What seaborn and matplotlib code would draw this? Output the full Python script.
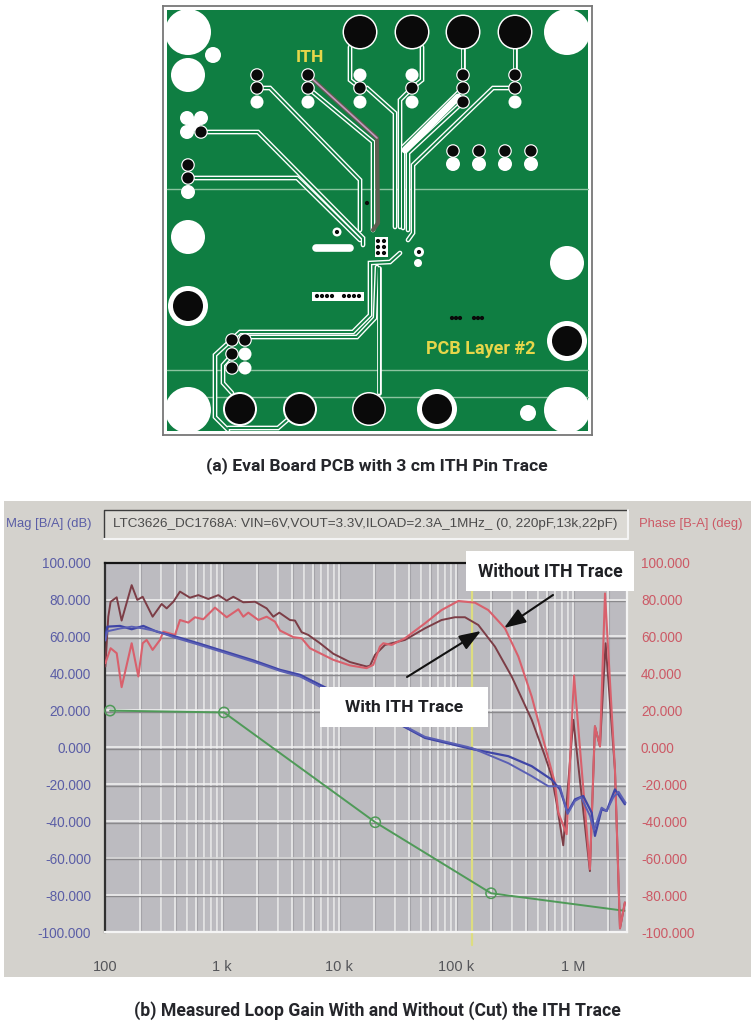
import matplotlib
matplotlib.use("Agg")
import numpy as np
import pandas as pd
import matplotlib.pyplot as plt
import seaborn as sns
from matplotlib.patches import Circle, Rectangle

# ---------- Bode data (log10 of frequency in Hz, value in dB / deg) ----------
logf_with = [2.003,2.028,2.048,2.100,2.142,2.228,2.276,2.322,2.407,2.484,2.527,2.584,2.641,2.726,2.798,2.883,2.969,3.040,3.097,3.182,3.282,3.382,3.439,3.490,3.581,3.624,3.681,3.738,3.838,3.952,4.094,4.236,4.265,4.308,4.393,4.564,4.735,4.877,4.991,5.077,5.191,5.333,5.476,5.647,5.761,5.818,5.860,5.917,6.003,6.145,6.188,6.231,6.279,6.359,6.402,6.444]
val_with = [43.9,70.9,79,81.4,68.8,88,80,81.7,70.9,77.8,75.4,79,84.5,81.2,82.6,80.5,82.6,79.6,81.7,78.7,79,75.4,70.9,73.1,69.1,68.8,62.5,61,56.5,50.8,46.3,43.9,44.3,50.2,55.6,58.3,64.6,69.1,70.6,70.6,66.4,54.7,38.5,15.1,-4.7,-15.5,-30,-53,15,-67,11.5,0.6,56.5,-12,-98,-84]
logf_without = [2.003,2.048,2.100,2.142,2.228,2.285,2.322,2.356,2.407,2.470,2.499,2.598,2.641,2.712,2.769,2.840,2.940,3.040,3.140,3.182,3.225,3.311,3.382,3.453,3.496,3.610,3.681,3.752,3.952,4.094,4.236,4.293,4.350,4.379,4.450,4.564,4.735,4.877,5.020,5.162,5.276,5.419,5.533,5.647,5.761,5.846,5.875,5.946,6.009,6.145,6.188,6.231,6.274,6.359,6.402,6.444]
val_without = [45.7,53.8,51.1,32.7,56.5,38.5,56.5,58.3,52.9,58.3,62.8,61,69.1,67.7,70.6,69.5,75.8,70.6,74.9,70.9,73.1,69.1,70.9,68.2,63.4,59.8,59.2,53.8,47.5,44.5,43,44.8,54.7,56.5,55.6,59.2,67.3,74.5,79.4,78.5,74.5,64.6,49.3,27.7,0.7,-19.2,-35.3,-47,39,-66,11.5,0.6,83.5,-12,-98,-84]
logf_mag_a = [2.003,2.020,2.128,2.228,2.328,2.442,2.584,2.812,3.040,3.268,3.496,3.667,3.866,4.2,4.550,4.735,5.134,5.447,5.647,5.818,5.889,5.954,6.017,6.088,6.160,6.188,6.245,6.288,6.359,6.444]
val_mag_a = [60.1,65.5,65.9,64.1,65.9,62.8,60.5,56.2,51.7,47.2,42.1,39.4,33.1,22,11.5,5.2,-0.8,-4.7,-10.1,-17.4,-22.7,-35.3,-28.1,-26.3,-35.3,-47.9,-33.5,-34.4,-22.7,-30.8]
logf_mag_b = [2.003,2.020,2.128,2.228,2.328,2.442,2.584,2.812,3.040,3.268,3.496,3.667,3.866,4.2,4.550,4.735,5.134,5.447,5.647,5.790,5.889,5.954,6.017,6.070,6.145,6.180,6.245,6.288,6.345,6.390,6.450]
val_mag_b = [58,63,64.5,65.5,64.5,63,59.8,55.5,51,46.5,41.5,38.5,32,21.5,12,5.8,-0.2,-8.5,-15.5,-21,-21,-36,-29,-27,-37,-45,-32.6,-34.4,-27,-24,-30]
logf_comp = [2.043,3.017,4.310,5.300,6.440]
val_comp = [20,19,-40.5,-79,-88.5]
logf_marker = [2.043,3.017,4.310,5.300]
val_marker = [20,19,-40.5,-79]
logf_cursor = 5.137

y_ticks = [100,80,60,40,20,0,-20,-40,-60,-80,-100]
x_tick_vals = [100,1000,10000,100000,1000000]
x_tick_labels = ["100","1 k","10 k","100 k","1 M"]
plot_title = "LTC3626_DC1768A: VIN=6V,VOUT=3.3V,ILOAD=2.3A_1MHz_ (0, 220pF,13k,22pF)"

# ---------- PCB drawing data (board units) ----------
white_holes = [(188,32,23),(567,32,23),(188,410,23),(567,410,23),(213,55,8),(188,75,17),(188,237,17),(567,263,17),(528,413,8),
               (257,102,6.5),(308,102,6.5),(360,75,6.5),(360,102,6.5),(412,75,6.5),(412,102,6.5),(515,102,6.5),
               (453,164,7),(479,164,7),(505,164,7),(531,164,7),(187,118,7),(201,118,7),(187,132,7),(194,125,6),(188,192,7),
               (337,232,4.5),(419,252,5),(418,263,4),(245,354,6.5),(245,368,6.5)]
large_pads = [(360,32,16,17.5),(412,32,16,17.5),(463,32,16,17.5),(515,32,16,17.5),(240,409,15,17),(300,409,15,17),(369,409,15.5,17),
              (437,409,15,20),(188,306,15,20),(567,341,15,20)]
small_vias = [(257,75),(257,88),(308,75),(308,88),(360,88),(412,88),(463,75),(463,88),(463,102),(515,75),(515,88),
              (453,151),(479,151),(505,151),(531,151),(201,132),(188,165),(188,178),(232,340),(245,340),(232,354),(232,368)]
tiny_dots = [(367,203),(337,232),(419,252),(317,296),(322,296),(327,296),(332,296),(344,296),(349,296),(354,296),(359,296),
             (452,318),(456,318),(460,318),(474,318),(478,318),(482,318),(378,241),(384,241),(378,247),(384,247),(378,253),(384,253)]
traces = [
    [(263,88),(270,88),(360,180),(360,230)],
    [(308,88),(373,142),(373,230)],
    [(201,132),(258,132),(363,238),(363,245)],
    [(188,178),(297,178),(360,240)],
    [(360,88),(367,88),(395,113),(395,227)],
    [(412,88),(400,100),(400,227)],
    [(463,88),(403,147),(403,228)],
    [(463,102),(408,153),(408,230)],
    [(515,88),(493,88),(413,165),(413,233),(408,240)],
    [(350,47),(350,80),(360,88)],
    [(422,47),(422,80),(412,88)],
    [(463,45),(463,75)],
    [(515,45),(515,75)],
    [(400,253),(390,262),(370,263),(370,315),(353,332),(240,332),(215,355),(215,417),(228,430)],
    [(377,267),(375,318),(357,337),(245,337)],
    [(379,268),(379,393)],
    [(300,409),(278,428),(228,428)],
    [(232,355),(223,365),(223,383),(232,393)],
]
ith_trace = [(308,75),(377,138),(378,223),(373,230)]
hairlines = [(167,588,189),(167,588,370),(200,588,397)]

sns.set_theme(style="white")
plt.rcParams['font.family'] = ['Liberation Sans', 'DejaVu Sans']

W, H = 755, 1025
fig = plt.figure(figsize=(W/100, H/100), dpi=100, facecolor="white")

def frac(x0, y0, x1, y1):
    return [x0/W, 1-y1/H, (x1-x0)/W, (y1-y0)/H]

# ---------- window background ----------
bg = fig.add_axes([0,0,1,1], zorder=0)
bg.set_xlim(0,W); bg.set_ylim(H,0); bg.axis("off")
bg.add_patch(Rectangle((4,501),747,476,fc="#d4d2cd",ec="none"))
bg.add_patch(Rectangle((104,510),524,28,fc="#dcdad5",ec="none"))
bg.plot([104,104,628],[538,510,510],color="#3c3c3c",lw=1)
bg.plot([104,628,628],[538.5,538.5,510],color="#f4f4f4",lw=1.5)

# ---------- Bode plot ----------
ax = fig.add_axes(frac(105,563,627,932), zorder=1)
ax.set_facecolor("#bcbbc0")
ax.set_xscale("log")
ax.set_xlim(100, 10**6.462)
ax.set_ylim(-100,100)

for dec in range(2,7):
    for m in range(1,10):
        f = m*10**dec
        if 100 < f < 10**6.462:
            ax.axvline(f*1.012,color="#a4a3a8",lw=0.8,zorder=1)
            ax.axvline(f,color="#eeeeee",lw=1.1,zorder=1.1)
for yv in y_ticks:
    if -100 < yv < 100:
        ax.axhline(yv-0.7,color="#8a898c",lw=1.0,zorder=1.2)
        ax.axhline(yv+0.2,color="#f2f2f2" if yv != -60 else "#d8d8d8",lw=1.1,zorder=1.3)
ax.axvline(10**logf_cursor,color="#dddd80",lw=1.6,zorder=1.5)
ax.plot([10**logf_cursor]*2,[-100,-107],color="#dddd80",lw=1.6,clip_on=False,zorder=1.5)

def series(lf, v, name):
    return pd.DataFrame({"freq":10**np.array(lf),"val":v,"series":name})

sns.lineplot(data=series(logf_comp,val_comp,"comp"),x="freq",y="val",ax=ax,color="#4f9a58",lw=1.4,estimator=None,sort=False,zorder=3)
sns.scatterplot(data=series(logf_marker,val_marker,"m"),x="freq",y="val",ax=ax,s=55,facecolor="none",edgecolor="#4f9a58",linewidth=1.1,zorder=3.2,clip_on=False)
sns.lineplot(data=series(logf_with,val_with,"with"),x="freq",y="val",ax=ax,color="#7c3d46",lw=1.4,estimator=None,sort=False,zorder=4)
sns.lineplot(data=series(logf_without,val_without,"without"),x="freq",y="val",ax=ax,color="#d9606c",lw=1.5,estimator=None,sort=False,zorder=4.2)
sns.lineplot(data=series(logf_mag_a,val_mag_a,"a"),x="freq",y="val",ax=ax,color="#3f45a6",lw=1.6,estimator=None,sort=False,zorder=4.5)
sns.lineplot(data=series(logf_mag_b,val_mag_b,"b"),x="freq",y="val",ax=ax,color="#5a5fb4",lw=1.4,estimator=None,sort=False,zorder=4.5)

ax.set_xlabel(""); ax.set_ylabel("")
ax.set_xticks(x_tick_vals); ax.set_xticklabels(x_tick_labels,fontsize=10.5,color="#55565a")
ax.xaxis.set_minor_locator(plt.NullLocator())
ax.tick_params(axis="x",length=0,pad=20)
ax.set_yticks(y_ticks); ax.set_yticklabels([f"{v:.3f}" for v in y_ticks],fontsize=9.8,color="#5b5ea6")
ax.tick_params(axis="y",length=0,pad=10)
for s,c,w in [("left","#303030",1.6),("top","#151515",1.6),("bottom","#f4f4f4",1.6),("right","#f4f4f4",1.6)]:
    ax.spines[s].set_color(c); ax.spines[s].set_linewidth(w); ax.spines[s].set_visible(True)

ax2 = ax.twinx()
ax2.set_ylim(-100,100)
ax2.set_yticks(y_ticks); ax2.set_yticklabels([f"{v:.3f}" for v in y_ticks],fontsize=9.8,color="#cc5a66")
ax2.tick_params(axis="y",length=0,pad=10)
ax2.grid(False)
for s in ax2.spines.values():
    s.set_visible(False)

# ---------- PCB ----------
pcb = fig.add_axes(frac(163,6,592,435), zorder=2)
pcb.set_xlim(163,592); pcb.set_ylim(435,6)
pcb.set_xticks([]); pcb.set_yticks([])
pcb.set_facecolor("white")
for s in pcb.spines.values():
    s.set_color("#777777"); s.set_linewidth(1.3)
GREEN = "#0f7e42"
board = Rectangle((167,10),421,421,fc=GREEN,ec="none",zorder=1)
pcb.add_patch(board)
for x0,x1,y in hairlines:
    pcb.plot([x0,x1],[y,y],color="#8cc4a0",lw=1,zorder=1.2)
for tr in traces:
    xs,ys = zip(*tr)
    pcb.plot(xs,ys,color="white",lw=3.4,zorder=2,solid_joinstyle="miter")
    pcb.plot(xs,ys,color=GREEN,lw=1.4,zorder=2.1,solid_joinstyle="miter")
pcb.plot([458,405],[97,150],color="white",lw=5,zorder=2.2)
xs,ys = zip(*ith_trace)
pcb.plot(xs,ys,color="#5f5c50",lw=3,zorder=2.3)
pcb.plot(xs[:2],ys[:2],color="#c49ac0",lw=1.2,zorder=2.4)
for x,y,r in white_holes:
    c = Circle((x,y),r,fc="white",ec="none",zorder=3)
    pcb.add_patch(c)
for x,y,r,ring in large_pads:
    pcb.add_patch(Circle((x,y),ring,fc="white",ec="none",zorder=3))
    pcb.add_patch(Circle((x,y),r,fc="#0a0a0a",ec="none",zorder=3.1))
for x,y in small_vias:
    pcb.add_patch(Circle((x,y),6.8,fc="white",ec="none",zorder=3.2))
for x,y in small_vias:
    pcb.add_patch(Circle((x,y),5.6,fc="#0a0a0a",ec="none",zorder=3.3))
pcb.plot([316,350],[248,248],color="white",lw=5.5,solid_capstyle="round",zorder=3)
pcb.add_patch(Rectangle((312,292),52,9,fc="white",ec="none",zorder=3))
pcb.add_patch(Rectangle((375,237),13,20,fc="white",ec="none",zorder=3))
for x,y in tiny_dots:
    pcb.add_patch(Circle((x,y),2.1,fc="#0a0a0a",ec="none",zorder=3.4))
pcb.text(310,57,"ITH",color="#e6d64a",fontsize=12.6,fontweight="bold",family=["Roboto"],ha="center",va="center",zorder=5)
pcb.text(481,349,"PCB Layer #2",color="#e6d64a",fontsize=13,fontweight="bold",family=["Roboto"],ha="center",va="center",zorder=5)

# ---------- overlay: labels, callouts, captions ----------
ov = fig.add_axes([0,0,1,1], zorder=5)
ov.set_xlim(0,W); ov.set_ylim(H,0); ov.axis("off"); ov.patch.set_alpha(0)
ov.text(6,524,"Mag [B/A] (dB)",color="#5b5ea6",fontsize=9.4,ha="left",va="center")
ov.text(639,524,"Phase [B-A] (deg)",color="#cc5a66",fontsize=9.4,ha="left",va="center")
ov.text(113,524,plot_title,color="#4a4a4a",fontsize=9.7,ha="left",va="center")

ov.add_patch(Rectangle((466,551),168,40,fc="white",ec="none",zorder=2))
ov.text(550,572,"Without ITH Trace",color="#1f2024",fontsize=12.7,fontweight="bold",family=["Roboto"],ha="center",va="center",zorder=3)
ov.add_patch(Rectangle((320,687),168,40,fc="white",ec="none",zorder=2))
ov.text(404,708,"With ITH Trace",color="#1f2024",fontsize=12.6,fontweight="bold",family=["Roboto"],ha="center",va="center",zorder=3)
for (x0,y0),(x1,y1) in [((553,595),(504,628)),((407,677),(481,631))]:
    ov.annotate("",xy=(x1,y1),xytext=(x0,y0),zorder=4,
                arrowprops=dict(arrowstyle="-|>,head_length=1.1,head_width=0.4",color="#111111",lw=1.5,shrinkA=0,shrinkB=0))
ov.text(377,466,"(a) Eval Board PCB with 3 cm ITH Pin Trace",color="#25262b",fontsize=12.6,fontweight="bold",family=["Roboto"],ha="center",va="center")
ov.text(377,1011,"(b) Measured Loop Gain With and Without (Cut) the ITH Trace",color="#25262b",fontsize=12.7,fontweight="bold",family=["Roboto"],ha="center",va="center")

fig.savefig("out.png",dpi=100,facecolor="white")
